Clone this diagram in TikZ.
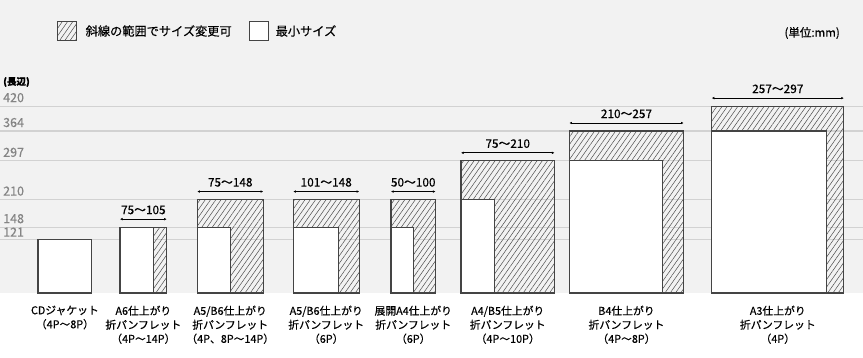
\documentclass[tikz,border=0pt]{standalone}
\usepackage{fontspec}
\setmainfont{Noto Sans CJK JP}[FakeBold=0.35]
\usepackage{xcolor}
\usepackage{tikz}
\usetikzlibrary{arrows.meta,positioning,patterns.meta}
\definecolor{bggray}{HTML}{F2F2F2}
\definecolor{gridgray}{HTML}{D2D2D2}
\definecolor{axisgray}{HTML}{858585}
\definecolor{edgegray}{HTML}{444444}

\begin{document}
\begin{tikzpicture}[x=1pt,y=1pt,
  hatchbox/.style={draw=edgegray,line width=1.1pt,inner sep=0pt,outer sep=0pt,anchor=south west,
    pattern={Lines[angle=55,distance=4.3pt,line width=0.5pt]},pattern color=black!70},
  minbox/.style={draw=edgegray,line width=1.1pt,fill=white,inner sep=0pt,outer sep=0pt,anchor=south west},
  dimline/.style={{Latex[length=2.6pt,width=2.6pt]}-{Latex[length=2.6pt,width=2.6pt]},line width=0.8pt},
  dimlabel/.style={midway,anchor=base,yshift=5pt,inner sep=0pt,font=\fontsize{11.8}{13}\selectfont},
  caption/.style={align=center,inner sep=0pt,font=\fontsize{10.8}{14}\selectfont},
  axislabel/.style={anchor=base west,inner sep=0pt,text=axisgray,font=\fontsize{12.5}{14}\selectfont},
  gridline/.style={gridgray,line width=1.1pt}]
\useasboundingbox (0,0) rectangle (863,358);
\fill[white] (0,0) rectangle (863,358);
\fill[bggray] (0,65) rectangle (863,358);

% legend
\node[hatchbox,minimum width=19pt,minimum height=19pt] (key-hatch) at (57.5,317.5) {};
\node[anchor=west,inner sep=0pt,font=\fontsize{12.2}{14}\selectfont,right=9pt of key-hatch] (key-hatch-text) {斜線の範囲でサイズ変更可};
\node[minbox,minimum width=19pt,minimum height=19pt] (key-min) at (249.5,317.5) {};
\node[anchor=west,inner sep=0pt,font=\fontsize{12.2}{14}\selectfont,right=7pt of key-min] (key-min-text) {最小サイズ};
\node[anchor=east,inner sep=0pt,font=\fontsize{11.5}{13}\selectfont] (unit) at (840,325) {(単位:mm)};

% long side scale
\node[anchor=west,inner sep=0pt,font=\bfseries\fontsize{9.5}{11}\selectfont] (longside) at (3,276) {(長辺)};
\foreach \v/\up in {420/4,364/4,297/4,210/4,148/4,121/2.5}{
  \node[axislabel] (axis-\v) at (3,65+0.445*\v+\up) {\v};
  \draw[gridline] (0,65+0.445*\v) -- (863,65+0.445*\v);
}

% sizes
\node[minbox,minimum width={0.445pt*121},minimum height={0.445pt*121}] (outer-cd) at (38,65) {};
\node[caption,below=12.5pt of outer-cd.south] (cap-cd) {CDジャケット\\（4P〜8P）};

\foreach \n/\x/\W/\H/\w/\h/\range/\lab in {
  a6/120/105/148/75/148/{75〜105}/{A6仕上がり\\折パンフレット\\（4P〜14P）},
  a5a/197.3/148/210/75/148/{75〜148}/{A5/B6仕上がり\\折パンフレット\\（4P、8P〜14P）},
  a5b/293.3/148/210/101/148/{101〜148}/{A5/B6仕上がり\\折パンフレット\\（6P）},
  a4open/391/100/210/50/148/{50〜100}/{展開A4仕上がり\\折パンフレット\\（6P）},
  a4/461/210/297/75/210/{75〜210}/{A4/B5仕上がり\\折パンフレット\\（4P〜10P）},
  b4/569.3/257/364/210/297/{210〜257}/{B4仕上がり\\折パンフレット\\（4P〜8P）},
  a3/711.7/297/420/257/364/{257〜297}/{A3仕上がり\\折パンフレット\\（4P）}}{
  \node[hatchbox,minimum width={0.445pt*\W},minimum height={0.445pt*\H}] (outer-\n) at (\x,65) {};
  \node[minbox,minimum width={0.445pt*\w},minimum height={0.445pt*\h}] (inner-\n) at (\x,65) {};
  \draw[dimline] ([yshift=8pt]outer-\n.north west) -- ([yshift=8pt]outer-\n.north east)
    node[dimlabel] (range-\n) {\range};
  \node[caption,below=12.5pt of outer-\n.south] (cap-\n) {\lab};
}
\end{tikzpicture}
\end{document}
